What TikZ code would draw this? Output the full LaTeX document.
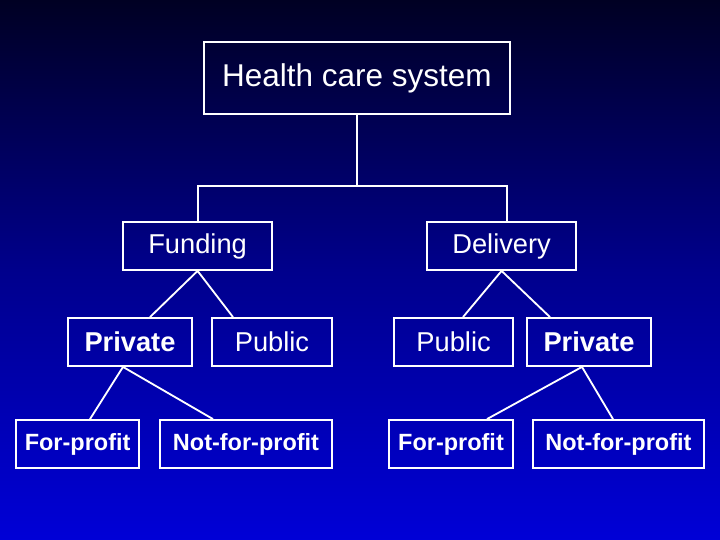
\documentclass[tikz,border=0pt]{standalone}
\usepackage{fontspec}
\setmainfont{Liberation Sans}
\usetikzlibrary{calc}
\definecolor{slidetop}{RGB}{0,0,35}
\definecolor{slidemid}{RGB}{0,0,140}
\definecolor{slidebot}{RGB}{0,0,215}
\tikzset{
	box/.style={draw=white, line width=1.3pt, text=white, minimum height=1.2cm, inner sep=0pt},
	link/.style={draw=white, line width=1.3pt},
	big/.style={font=\fontsize{22.4}{26}\selectfont},
	mid/.style={font=\fontsize{19.4}{23}\selectfont},
	midb/.style={font=\fontsize{19.4}{23}\selectfont\bfseries},
	lowb/.style={font=\fontsize{16.7}{20}\selectfont\bfseries}
}

\begin{document}
\begin{tikzpicture}
		%%%%% START %%%%%
		
		\shade[top color=slidetop, bottom color=slidebot, middle color=slidemid] (0, 0) rectangle (18, 13.5);
		\useasboundingbox (0, 0) rectangle (18, 13.5);
		
		\node[box, big, minimum width=7.65cm, minimum height=1.8cm] (hcs) at (8.925, 11.55) {Health care system};
		
		\node[box, mid, minimum width=3.725cm] (fund) at (4.94, 7.35) {Funding};
		\node[box, mid, minimum width=3.725cm] (deliv) at (12.54, 7.35) {Delivery};
		
		\node[box, midb, minimum width=3.1cm] (fpriv) at (3.25, 4.95) {Private};
		\node[box, mid, minimum width=3.0cm] (fpub) at (6.8, 4.95) {Public};
		\node[box, mid, minimum width=2.975cm] (dpub) at (11.34, 4.95) {Public};
		\node[box, midb, minimum width=3.1cm] (dpriv) at (14.725, 4.95) {Private};
		
		\node[box, lowb, minimum width=3.075cm] (ffp) at (1.94, 2.4) {For-profit};
		\node[box, lowb, minimum width=4.3cm] (fnfp) at (6.15, 2.4) {Not-for-profit};
		\node[box, lowb, minimum width=3.1cm] (dfp) at (11.275, 2.4) {For-profit};
		\node[box, lowb, minimum width=4.275cm] (dnfp) at (15.46, 2.4) {Not-for-profit};
		
		\coordinate (bar) at ($(hcs.south)+(0, -1.775)$);
		\draw[link] (hcs.south) -- (bar);
		\draw[link] (bar) -| (fund.north);
		\draw[link] (bar) -| ([xshift=0.13cm]deliv.north);
		
		\draw[link] ([xshift=0.5cm]fpriv.north) -- (fund.south) -- ([xshift=-0.975cm]fpub.north);
		\draw[link] ([xshift=0.31cm]ffp.north) -- ([xshift=-0.175cm]fpriv.south) -- ([xshift=-0.825cm]fnfp.north);
		
		\draw[link] ([xshift=0.235cm]dpub.north) -- (deliv.south) -- ([xshift=-0.975cm]dpriv.north);
		\draw[link] ([xshift=0.9cm]dfp.north) -- ([xshift=-0.175cm]dpriv.south) -- ([xshift=-0.135cm]dnfp.north);
		
		%%%%% END %%%%%
	\end{tikzpicture}
\end{document}
